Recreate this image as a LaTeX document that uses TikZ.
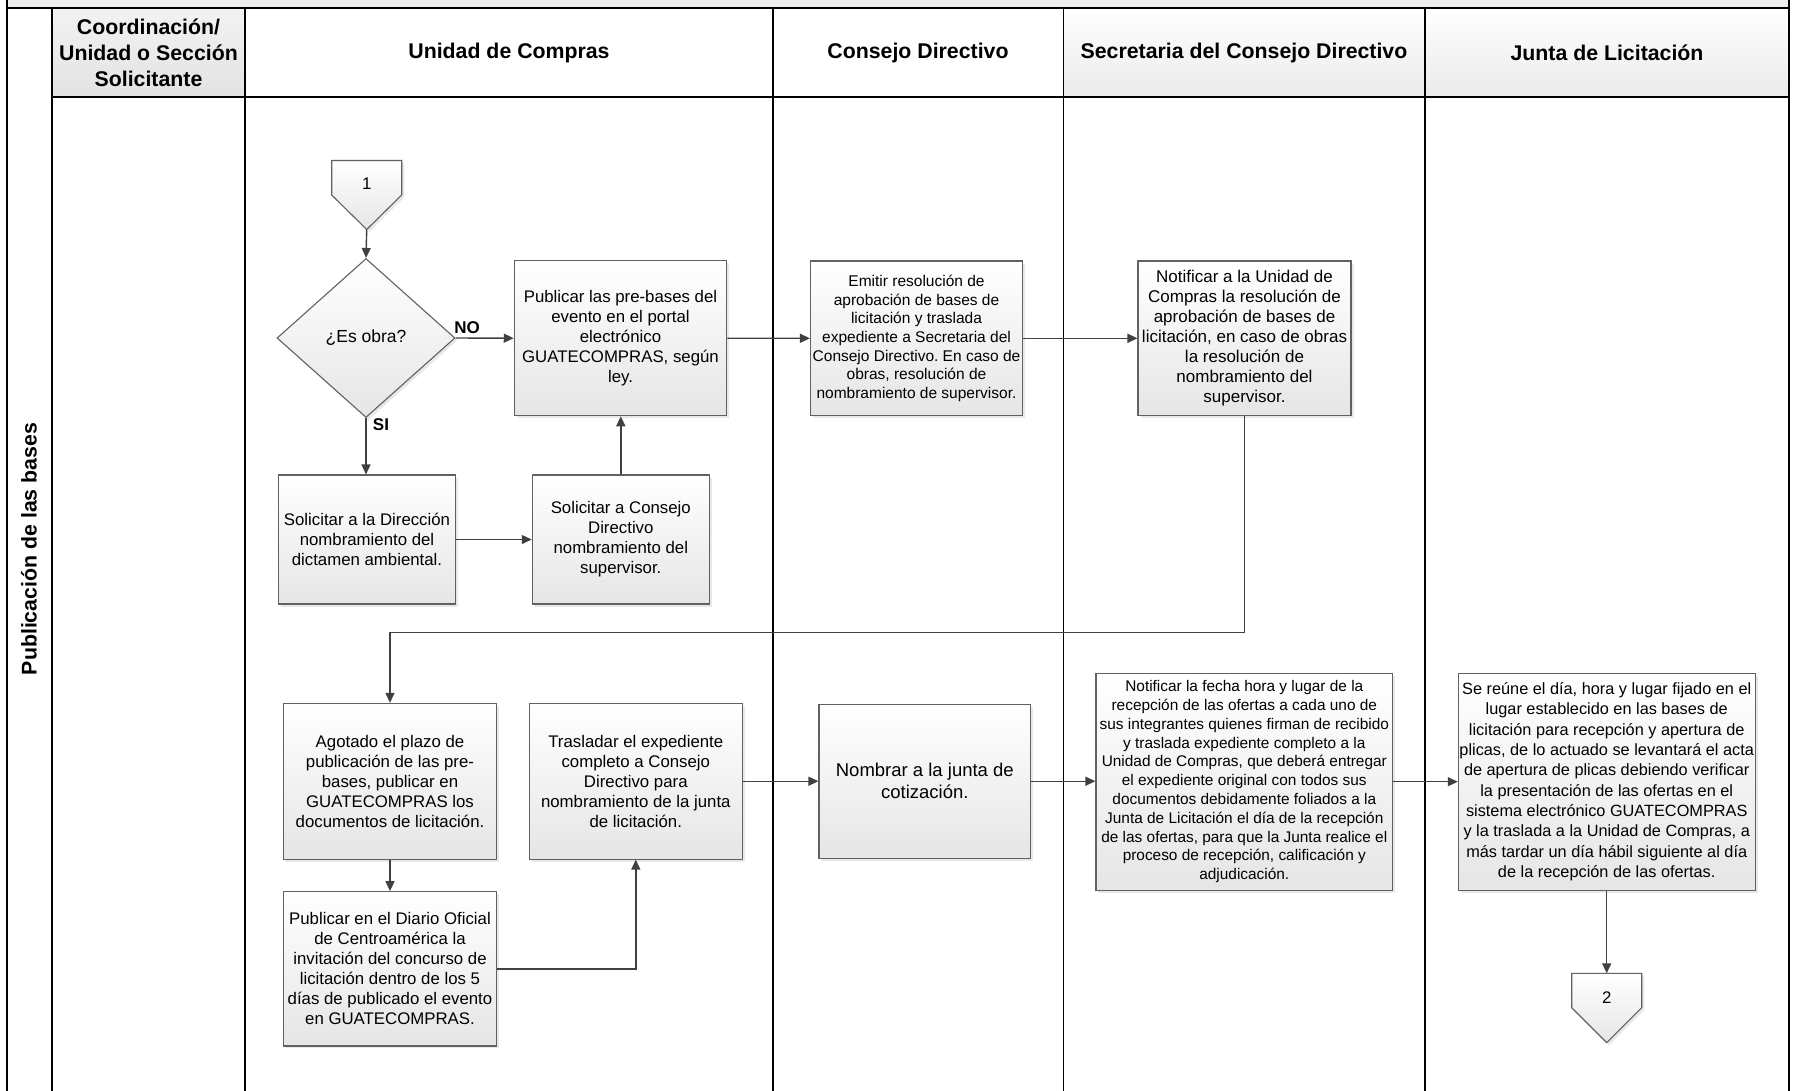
\documentclass[tikz,border=0pt]{standalone}
\usepackage{fontspec}
\setmainfont{Liberation Sans}
\usetikzlibrary{arrows.meta,shapes.geometric,shadows}
\frenchspacing
\tikzset{
  lane/.style={line width=1.4pt, draw=black},
  proc/.style={draw=black!62, line width=1.1pt, top color=white, bottom color=black!10,
    align=center, inner sep=0pt,
    drop shadow={shadow xshift=2.5pt, shadow yshift=-2.5pt, opacity=0.18}},
  flow/.style={draw=black!75, line width=1.4pt, -{Triangle[length=10pt,width=9pt]}},
  hdr/.style={font=\fontsize{21.3}{25.8}\selectfont\bfseries, align=center},
  lbl/.style={font=\fontsize{17}{20}\selectfont\bfseries},
  fa/.style={font=\fontsize{16.8}{20}\selectfont},
}
\begin{document}
\begin{tikzpicture}[x=1pt,y=-1pt]
\useasboundingbox (0,0) rectangle (1795,1090);
% swimlane frame
\fill[gray!13] (7,-2) rectangle (1789,8);
\shade[top color=gray!10, bottom color=gray!22] (52,8) rectangle (245,97);
\shade[top color=white, bottom color=gray!16] (1063.5,8) rectangle (1425,97);
\shade[top color=white, bottom color=gray!16] (1425,8) rectangle (1789,97);
\draw[lane] (7,8) -- (1789,8);
\draw[lane] (52,97) -- (1789,97);
\foreach \xx in {7,1789}{\draw[lane] (\xx,-2) -- (\xx,1092);}
\foreach \xx in {52,245,773,1063.5,1425}{\draw[lane] (\xx,8) -- (\xx,1092);}
% headers
\node[hdr] (hcoord) at (148.5,52.5) {Coordinación/\\Unidad o Sección\\Solicitante};
\node[hdr] (hunid) at (509,53) {Unidad de Compras};
\node[hdr] (hcons) at (918,53) {Consejo Directivo};
\node[hdr] (hsec) at (1244,53) {Secretaria del Consejo Directivo};
\node[hdr] (hjun) at (1607,53) {Junta de Licitación};
\node[hdr, rotate=90] (pool) at (29,549) {Publicación de las bases};

% off-page connector 1
\path[proc] (331.7,160.5) -- (401.7,160.5) -- (401.7,195) -- (366.7,229.5) -- (331.7,195) -- cycle;
\node[fa] (c1) at (366.7,184) {1};
\coordinate (c1tip) at (366.7,229.5);

% decision
\node[proc, diamond, minimum width=178pt, minimum height=159pt, font=\fontsize{17.5}{20}\selectfont] (d) at (366,338) {¿Es obra?};

% processes
\node[proc, fa, minimum width=212.4pt, minimum height=155pt] (b3) at (620.5,338.2)
 {Publicar las pre-bases del\\evento en el portal\\electrónico\\GUATECOMPRAS, según\\ley.};
\node[proc, minimum width=212pt, minimum height=154.6pt, font=\fontsize{15.5}{18.7}\selectfont] (b4) at (916.5,338.3)
 {Emitir resolución de\\aprobación de bases de\\licitación y traslada\\expediente a Secretaria del\\Consejo Directivo. En caso de\\obras, resolución de\\nombramiento de supervisor.};
\node[proc, minimum width=213pt, minimum height=154.6pt, font=\fontsize{17}{20}\selectfont] (b5) at (1244.5,338.3)
 {Notificar a la Unidad de\\Compras la resolución de\\aprobación de bases de\\licitación, en caso de obras\\la resolución de\\nombramiento del\\supervisor.};
\node[proc, fa, minimum width=177.4pt, minimum height=129pt] (b6) at (367,539.5)
 {Solicitar a la Dirección\\nombramiento del\\dictamen ambiental.};
\node[proc, fa, minimum width=177pt, minimum height=129pt] (b7) at (620.8,539.5)
 {Solicitar a Consejo\\Directivo\\nombramiento del\\supervisor.};
\node[proc, fa, minimum width=213.4pt, minimum height=155.7pt] (b9) at (390,781.2)
 {Agotado el plazo de\\publicación de las pre-\\bases, publicar en\\GUATECOMPRAS los\\documentos de licitación.};
\node[proc, fa, minimum width=213pt, minimum height=155.7pt] (b10) at (635.8,781.2)
 {Trasladar el expediente\\completo a Consejo\\Directivo para\\nombramiento de la junta\\de licitación.};
\node[proc, fa, minimum width=213.4pt, minimum height=154.3pt] (b11) at (390,968.8)
 {Publicar en el Diario Oficial\\de Centroamérica la\\invitación del concurso de\\licitación dentro de los 5\\días de publicado el evento\\en GUATECOMPRAS.};
\node[proc, minimum width=211.7pt, minimum height=154.3pt, font=\fontsize{18.5}{22.3}\selectfont] (b12) at (924.8,781.2)
 {Nombrar a la junta de\\cotización.};
\node[proc, minimum width=296.7pt, minimum height=216.7pt, font=\fontsize{15.4}{18.8}\selectfont] (b13) at (1244.3,781.7)
 {Notificar la fecha hora y lugar de la\\recepción de las ofertas a cada uno de\\sus integrantes quienes firman de recibido\\y traslada expediente completo a la\\Unidad de Compras, que deberá entregar\\el expediente original con todos sus\\documentos debidamente foliados a la\\Junta de Licitación el día de la recepción\\de las ofertas, para que la Junta realice el\\proceso de recepción, calificación y\\adjudicación.};
\node[proc, minimum width=296.7pt, minimum height=216.7pt, font=\fontsize{16.3}{20.3}\selectfont] (b14) at (1606.7,781.7)
 {Se reúne el día, hora y lugar fijado en el\\lugar establecido en las bases de\\licitación para recepción y apertura de\\plicas, de lo actuado se levantará el acta\\de apertura de plicas debiendo verificar\\la presentación de las ofertas en el\\sistema electrónico GUATECOMPRAS\\y la traslada a la Unidad de Compras, a\\más tardar un día hábil siguiente al día\\de la recepción de las ofertas.};

% off-page connector 2
\path[proc] (1571.7,973.3) -- (1641.7,973.3) -- (1641.7,1007.7) -- (1606.7,1042.7) -- (1571.7,1007.7) -- cycle;
\node[fa] (c2) at (1606.7,998) {2};
\coordinate (c2top) at (1606.7,973.3);

% labels
\node[lbl] (lno) at (467,328) {NO};
\node[lbl] (lsi) at (381,425) {SI};

% connectors
\draw[flow] (c1tip) -- (d.north);
\draw[flow] (d.east) -- (b3.west);
\draw[flow] (d.south) -- (d.south |- b6.north);
\draw[flow] (b6.east) -- (b7.west);
\draw[flow] (b7.north) -- (b7.north |- b3.south);
\draw[flow] (b3.east) -- (b4.west);
\draw[flow] (b4.east) -- (b5.west);
\draw[flow] (b5.south) -- ++(0,216.4) -| (b9.north);
\draw[flow] (b9.south) -- (b11.north);
\draw[flow] (b11.east) -| (b10.south);
\draw[flow] (b10.east) -- (b12.west);
\draw[flow] (b12.east) -- (b12.east -| b13.west);
\draw[flow] (b13.east) -- (b13.east -| b14.west);
\draw[flow] (b14.south) -- (c2top);
\end{tikzpicture}
\end{document}
